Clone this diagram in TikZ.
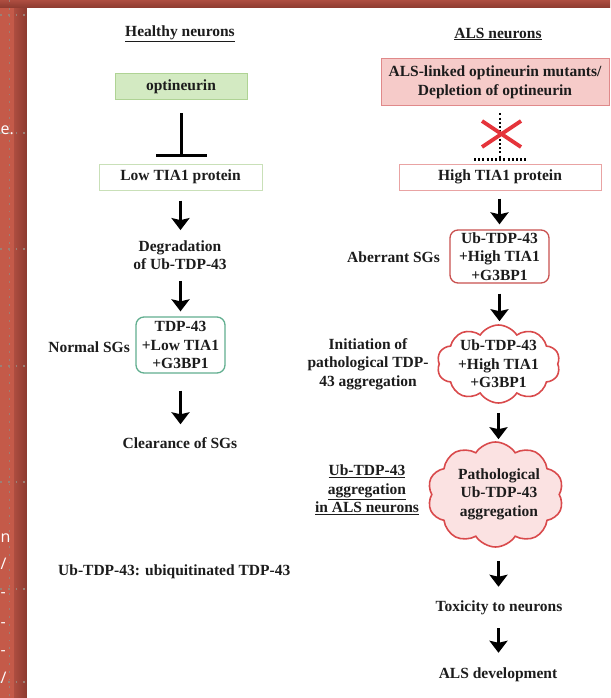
\documentclass[tikz,border=0pt]{standalone}
\usepackage{fontspec}
\setmainfont{Liberation Serif}
\newfontfamily\slidefont{Open Sans}
\usetikzlibrary{arrows.meta,shapes.symbols}
\definecolor{txt}{HTML}{1C1C1C}
\definecolor{optfill}{HTML}{D3EAC2}
\definecolor{optdraw}{HTML}{AFD394}
\definecolor{lowdraw}{HTML}{C9E0B8}
\definecolor{alsfill}{HTML}{F6CBC9}
\definecolor{alsdraw}{HTML}{E0898A}
\definecolor{highdraw}{HTML}{E9A3A3}
\definecolor{sgred}{HTML}{C9504F}
\definecolor{sggreen}{HTML}{62AF90}
\definecolor{cloudred}{HTML}{D94A4C}
\definecolor{cloudfill}{HTML}{FBE2E2}
\definecolor{xred}{HTML}{E5343B}
\definecolor{slide}{HTML}{C45A49}
\definecolor{slidedark}{HTML}{8C3A2F}
\definecolor{slidemid}{HTML}{AD4D40}
\definecolor{griddot}{HTML}{9C8076}
\newcommand\fsz{\fontsize{15.5}{18.5}\selectfont}
\begin{document}
\begin{tikzpicture}[x=1pt,y=-1pt,
  every node/.style={font=\fsz\bfseries, text=txt, inner sep=1pt, align=center},
  boxbase/.style={rectangle, line width=1pt},
  optbox/.style={boxbase, fill=optfill, draw=optdraw, minimum width=132pt, minimum height=26pt},
  lowbox/.style={boxbase, fill=white, draw=lowdraw, minimum width=163pt, minimum height=26pt},
  alsbox/.style={boxbase, fill=alsfill, draw=alsdraw, minimum width=228pt, minimum height=47pt},
  highbox/.style={boxbase, fill=white, draw=highdraw, minimum width=202pt, minimum height=26pt},
  greensg/.style={rectangle, rounded corners=8pt, draw=sggreen, line width=1.3pt, fill=white, minimum width=89pt, minimum height=56pt},
  redsg/.style={rectangle, rounded corners=8pt, draw=sgred, line width=1.3pt, fill=white, minimum width=99pt, minimum height=53pt},
  cloudnode/.style={cloud, cloud puffs=10, cloud puff arc=115, cloud ignores aspect, draw=cloudred, line width=1.6pt, inner sep=0pt},
  arr/.style={line width=3.4pt, -{Stealth[width=18pt,length=12pt,inset=2pt]}},
  inh/.style={line width=3pt, -{Bar[width=51pt]}},
  dotline/.style={line width=2.2pt, dash pattern=on 2pt off 2.2pt},
  redx/.style={xred, line width=3.8pt},
  gridline/.style={griddot, line width=1.8pt, dash pattern=on 1.8pt off 6pt},
  frag/.style={font=\slidefont\fontsize{16}{16}\selectfont, text=white, inner sep=0pt, anchor=base west}
]
\useasboundingbox (0,0) rectangle (610,698);
% slide background
\fill[slide] (0,0) rectangle (27,698);
\shade[left color=slidemid, right color=slidedark] (14,0) rectangle (27,698);
\shade[top color=slidemid, bottom color=slidedark] (0,0) rectangle (610,8);
\fill[white] (27,8) rectangle (610,698);
\draw[gridline] (9.5,0) -- (9.5,698);
\foreach \yy in {15,133,249,366,482,589,682} \draw[gridline] (0,\yy) -- (27,\yy);
\node[frag] (f1) at (0.5,135) {e.};
\node[frag] (f2) at (0.5,542) {n};
\node[frag] (f3) at (0.5,569) {/};
\node[frag] (f4) at (0.5,597) {-};
\node[frag] (f5) at (0.5,627) {-};
\node[frag] (f6) at (0.5,655) {-};
\node[frag] (f7) at (0.5,683) {/};

% left column
\node (h) at (180,34) {\underline{Healthy neurons}};
\node[optbox] (opt) at (181,87) {optineurin};
\node[lowbox] (low) at (180.5,177) {Low TIA1 protein};
\node (deg) at (180,255) {Degradation\\of Ub-TDP-43};
\node[greensg] (nsg) at (180.5,345) {TDP-43\\+Low TIA1\\+G3BP1};
\node[anchor=east] (nl) at (131,347) {Normal SGs};
\node (clr) at (180,443) {Clearance of SGs};
\node[anchor=west] (foot) at (57,572) {Ub-TDP-43: ubiquitinated TDP-43};

% right column
\node (a) at (498,34) {\underline{ALS neurons}};
\node[alsbox] (als) at (495,82.5) {ALS-linked optineurin mutants/\\Depletion of optineurin};
\node[highbox] (high) at (500,177) {High TIA1 protein};
\node[redsg] (asg) at (499.5,256.5) {Ub-TDP-43\\+High TIA1\\+G3BP1};
\node[anchor=east] (al) at (441,257) {Aberrant SGs};
\node[cloudnode, fill=white, minimum width=123pt, minimum height=78pt] (c1) at (498.5,364) {};
\node (c1t) at (c1) {Ub-TDP-43\\+High TIA1\\+G3BP1};
\node (init) at (368,364) {Initiation of\\pathological TDP-\\43 aggregation};
\node[cloudnode, fill=cloudfill, minimum width=136pt, minimum height=105pt] (c2) at (495.5,494.5) {};
\node (c2t) at (499,494) {Pathological\\Ub-TDP-43\\aggregation};
\node (agg) at (367,490) {\underline{Ub-TDP-43}\\\underline{aggregation}\\\underline{in ALS neurons}};
\node (tox) at (499,608) {Toxicity to neurons};
\node (dev) at (498,675) {ALS development};

% connectors left
\draw[inh, shorten <=13pt, shorten >=7pt] (opt.south) -- (opt.south |- low.north);
\draw[arr, shorten <=10pt, shorten >=9pt] (low.south) -- (low.south |- deg.north);
\draw[arr, shorten <=10pt, shorten >=5pt] (nsg.north |- deg.south) -- (nsg.north);
\draw[arr, shorten <=17pt, shorten >=12pt] (nsg.south) -- (nsg.south |- clr.north);

% connectors right
\draw[dotline, shorten <=7pt, shorten >=4pt] (high.north |- als.south) -- (high.north);
\coordinate (hb) at ([yshift=4pt]high.north);
\draw[dotline] ([xshift=-26pt]hb) -- ([xshift=26pt]hb);
\draw[redx] (482,121) -- (521,147) (482,147) -- (521,121);
\draw[arr, shorten <=8pt, shorten >=5pt] (asg.north |- high.south) -- (asg.north);
\draw[arr, shorten <=10pt, shorten >=3pt] (asg.south) -- (asg.south |- c1.north);
\draw[arr, shorten <=9pt, shorten >=2pt] (c1.south) -- (c1.south |- c2.north);
\draw[arr, shorten <=13pt, shorten >=13pt] (c1.south |- c2.south) -- (c1.south |- tox.north);
\draw[arr, shorten <=12pt, shorten >=14pt] (c1.south |- tox.south) -- (c1.south |- dev.north);
\end{tikzpicture}
\end{document}
